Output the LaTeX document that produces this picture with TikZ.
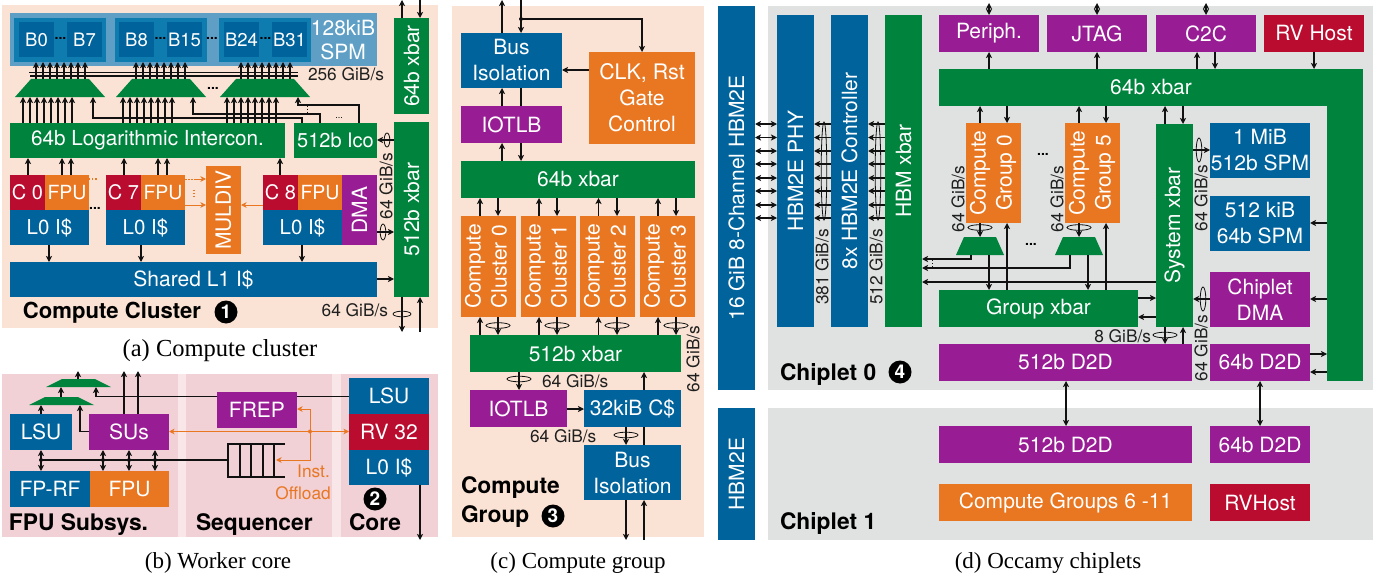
\documentclass[tikz,border=0pt]{standalone}
\usepackage{fontspec}
\usepackage{graphicx}
\setmainfont{TeX Gyre Heros}
\newfontfamily\capfont{Liberation Serif}
\usetikzlibrary{arrows.meta}
\definecolor{cgreen}{HTML}{00843D}
\definecolor{cblue}{HTML}{00639C}
\definecolor{cmid}{HTML}{0F7CB0}
\definecolor{clight}{HTML}{5F9FC6}
\definecolor{cpurple}{HTML}{981C93}
\definecolor{corange}{HTML}{E97722}
\definecolor{cred}{HTML}{BA0C2F}
\definecolor{cpeach}{HTML}{FAE3D4}
\definecolor{cpink}{HTML}{F1D0D6}
\definecolor{cpale}{HTML}{F8E6E9}
\definecolor{cgray}{HTML}{E0E1E1}
\definecolor{cline}{HTML}{111111}
\newcommand\boxfont{\fontsize{21}{26}\selectfont}
\newcommand\fs[1]{\fontsize{#1}{26}\selectfont}
\newcommand\smallfont{\fontsize{17.3}{20}\selectfont}
\newcommand\titlefont{\fontsize{22.8}{28}\selectfont\bfseries}
\newcommand\captfont{\capfont\fontsize{23}{28}\selectfont}
\tikzset{
  box/.style={inner sep=0pt,outer sep=0pt,text=white,align=center,font=\boxfont},
  arr/.style={draw=cline,line width=1.2pt,-{Stealth[length=6pt,width=6pt,inset=1.5pt]}},
  dbl/.style={draw=cline,line width=1.2pt,{Stealth[length=6pt,width=6pt,inset=1.5pt]}-{Stealth[length=6pt,width=6pt,inset=1.5pt]}},
  plain/.style={draw=cline,line width=1.2pt},
  oarr/.style={draw=corange,line width=1pt,-{Stealth[length=5.5pt,width=5.5pt,inset=1.5pt]}},
  odbl/.style={draw=corange,line width=1pt,{Stealth[length=5.5pt,width=5.5pt,inset=1.5pt]}-{Stealth[length=5.5pt,width=5.5pt,inset=1.5pt]}},
  ring/.style={draw=cline,line width=0.8pt},
  lab/.style={inner sep=0pt,outer sep=0pt,font=\smallfont,text=black!88},
  ttl/.style={inner sep=0pt,outer sep=0pt,font=\titlefont,text=black,anchor=base west},
  capt/.style={inner sep=0pt,outer sep=0pt,font=\captfont,text=black,anchor=base},
  numc/.style={circle,fill=black,text=white,minimum size=23pt,inner sep=0pt,outer sep=0pt,font=\fontsize{19}{20}\selectfont\bfseries},
  ddots/.style={inner sep=0pt,outer sep=0pt,font=\fontsize{14}{15}\selectfont\bfseries,text=black},
}
\newcommand\bx[7]{%
  \pgfmathsetmacro\bw{#4-(#2)}\pgfmathsetmacro\bh{#5-(#3)}%
  \pgfmathsetmacro\bcx{(#2+#4)/2}\pgfmathsetmacro\bcy{(#3+#5)/2}%
  \node[box,fill=#6,minimum width=\bw pt,minimum height=\bh pt] (#1) at (\bcx,\bcy) {#7};}
\newcommand\mux[6]{% name xl xr ytop ybot inset
  \pgfmathsetmacro\bw{#3-(#2)}\pgfmathsetmacro\bh{#5-(#4)}%
  \pgfmathsetmacro\bcx{(#2+#3)/2}\pgfmathsetmacro\bcy{(#4+#5)/2}%
  \fill[cgreen] (#2,#5) -- (#2+#6,#4) -- (#3-#6,#4) -- (#3,#5) -- cycle;
  \node[inner sep=0pt,outer sep=0pt,minimum width=\bw pt,minimum height=\bh pt] (#1) at (\bcx,\bcy) {};}
\newcommand\rt[1]{\rotatebox{90}{#1}}
\newcommand\rtt[2]{\rotatebox{90}{\begin{tabular}{@{}c@{}}#1\\#2\end{tabular}}}
\newcommand\vl[4][arr]{\draw[#1] (#2,0 |- #3) -- (#2,0 |- #4);}
\newcommand\hl[4][arr]{\draw[#1] (#3 |- 0,#2) -- (#4 |- 0,#2);}
\newcommand\hring[3]{\draw[ring] (#1,#2) ellipse [x radius=#3,y radius=2.8];}
\newcommand\vring[3]{\draw[ring] (#1,#2) ellipse [x radius=2.8,y radius=#3];}
\begin{document}
\begin{tikzpicture}[x=1pt,y=-1pt]
\useasboundingbox (0,0) rectangle (1387,578);
% named free ends
\coordinate (topa) at (0,0);
\coordinate (bota) at (0,332);
\coordinate (topb) at (0,371);
\coordinate (botb) at (0,540);
\coordinate (topc) at (0,0);
\coordinate (botc) at (0,540);
\coordinate (topd) at (0,3);
%% ---------- panel a
\bx{pa}{2}{5}{438}{328}{cpeach}{}
\bx{spm}{10}{13}{377}{66}{clight}{}
\bx{g1}{14}{18}{106}{62}{cmid}{}
\bx{g2}{115}{18}{207}{62}{cmid}{}
\bx{g3}{219}{18}{311}{62}{cmid}{}
\bx{b0}{19}{22}{54}{57}{cblue}{\fs{18.5}B0}
\bx{b7}{67}{22}{102}{57}{cblue}{\fs{18.5}B7}
\bx{b8}{119}{22}{154}{57}{cblue}{\fs{18.5}B8}
\bx{b15}{167}{22}{202}{57}{cblue}{\fs{18.5}B15}
\bx{b24}{224}{22}{259}{57}{cblue}{\fs{18.5}B24}
\bx{b31}{272}{22}{307}{57}{cblue}{\fs{18.5}B31}
\node[ddots] (dg1) at (60.5,38.5) {...};
\node[ddots] (dg2) at (160.5,38.5) {...};
\node[ddots] (dg3) at (212,38.5) {...};
\node[ddots] (dg4) at (265.5,38.5) {...};
\node[box,text width=70pt] (spmt) at (343,40.5) {128kiB\\[-2pt]SPM};
\mux{m1}{15}{105}{79}{97}{16}
\mux{m2}{116}{206}{79}{97}{16}
\mux{m3}{220}{310}{79}{97}{16}
\node[ddots] (dmm) at (213,88) {...};
\bx{lic}{10}{123}{285}{158}{cgreen}{\fs{20.7}64b Logarithmic Intercon.}
\bx{ico}{294}{123}{377}{158}{cgreen}{\fs{20}512b Ico}
\bx{xb64}{394}{18}{429}{114}{cgreen}{\rt{64b xbar}}
\bx{xb512}{394}{122}{429}{297}{cgreen}{\rt{512b xbar}}
\bx{c0}{10}{175}{45}{210}{cred}{\fs{20}C 0}
\bx{f0}{45}{175}{89}{210}{corange}{\fs{19.5}FPU}
\bx{l0}{10}{210}{89}{245}{cblue}{\fs{20.5}L0 I\$}
\bx{c7}{106}{175}{141}{210}{cred}{\fs{20}C 7}
\bx{f7}{141}{175}{185}{210}{corange}{\fs{19.5}FPU}
\bx{l7}{106}{210}{185}{245}{cblue}{\fs{20.5}L0 I\$}
\bx{c8}{263}{175}{298}{210}{cred}{\fs{20}C 8}
\bx{f8}{298}{175}{342}{210}{corange}{\fs{19.5}FPU}
\bx{l8}{263}{210}{342}{245}{cblue}{\fs{20.5}L0 I\$}
\bx{dma}{342}{175}{377}{245}{cpurple}{\rt{DMA}}
\bx{muldiv}{206}{166}{241}{254}{corange}{\rt{MULDIV}}
\bx{shl}{10}{262}{377}{297}{cblue}{Shared L1 I\$}
\foreach \x in {36,43,50,57,64,71,78,85} {\vl{\x}{m1.north}{g1.south}}
\foreach \x in {136,143,150,157,164,171,178,185} {\vl{\x}{m2.north}{g2.south}}
\foreach \x in {241,248,255,262,269,276,283,290} {\vl{\x}{m3.north}{g3.south}}
\coordinate (busla) at (29,72.5);
\coordinate (busra) at (298,72.5);
\coordinate (buslb) at (30,76);
\coordinate (busrb) at (298,76);
\draw[plain] (busla) -- (busra);
\draw[plain] (buslb) -- (busrb);
\foreach \x in {23,30,37,44,51,58,65,72} {\vl{\x}{lic.north}{m1.south}}
\foreach \x in {123,130,137,144,151,158,165,172} {\vl{\x}{lic.north}{m2.south}}
\foreach \x in {227,234,241,248,255,262,269,276} {\vl{\x}{lic.north}{m3.south}}
\draw[arr] (302,0 |- ico.north) |- (93,118) -- (93,0 |- m1.south);
\draw[arr] (320,0 |- ico.north) |- (193,114) -- (193,0 |- m2.south);
\draw[arr] (359,0 |- ico.north) |- (298,105) -- (298,0 |- m3.south);
\draw[line width=1pt,dotted,draw=cline] (307,105.5) -- (307,113);
\node[inner sep=0pt,font=\fontsize{9}{10}\selectfont,text=black] (dico) at (339,118) {...};
\vl{402}{xb64.north}{topa}
\vl{420}{topa}{xb64.north}
\hl{140}{xb512.west}{ico.east}
\vring{387}{140}{7}
\foreach \x in {28,62,71} {\vl{\x}{c0.north}{lic.south}}
\vl{124}{c7.north}{lic.south}
\vl{158}{c7.north}{lic.south}
\vl{167}{c7.north}{lic.south}
\vl{280}{c8.north}{lic.south}
\draw[corange,line width=1.2pt,dotted] (f0.east |- 0,179) -- ++(8,0);
\draw[oarr,dash pattern=on 1.5pt off 1.5pt on 1.5pt off 1.5pt on 1.5pt off 1.5pt on 30pt] (f7.east |- 0,179) -- (muldiv.west |- 0,179);
\draw[corange,line width=1.2pt,dotted] (194,190) -- (194,197);
\hl[oarr]{205}{f7.east}{muldiv.west}
\hl[oarr]{205}{c8.west}{muldiv.east}
\node[ddots] (dcore) at (95,208) {...};
\vl{49}{l0.south}{shl.north}
\vl{141}{l7.south}{shl.north}
\vl{302}{l8.south}{shl.north}
\hl{279}{shl.east}{xb512.west}
\hl{232}{dma.east}{xb512.west}
\vring{383}{232}{8}
\vl{402}{xb512.south}{bota}
\vl{420}{bota}{xb512.south}
\hring{402}{314}{9}
\node[lab,anchor=east] (la1) at (388,310) {64 GiB/s};
\node[lab,rotate=90] (la2) at (386,186) {64 GiB/s};
\node[ttl,font=\fontsize{22.1}{28}\selectfont\bfseries] (ta) at (23,318) {Compute Cluster};
\node[numc] (na) at (226,312) {1};
\node[capt,font=\capfont\fontsize{24.5}{28}\selectfont] (ca) at (220,356) {(a) Compute cluster};
\node[lab,anchor=west] (la3) at (308,74.5) {256 GiB/s};
%% ---------- panel b
\bx{sba}{178}{374}{186}{537}{cpale}{}
\bx{sbb}{332}{374}{341}{537}{cpale}{}
\bx{pb1}{2}{374}{178}{537}{cpink}{}
\bx{pb2}{186}{374}{332}{537}{cpink}{}
\bx{pb3}{341}{374}{438}{537}{cpink}{}
\mux{mb1}{46}{111}{379}{387}{16}
\mux{mb2}{29}{94}{397}{405}{16}
\bx{lsub}{10}{414}{72}{450}{cblue}{LSU}
\bx{sus}{89}{414}{169}{450}{cpurple}{SUs}
\bx{fprf}{10}{471}{90}{507}{cblue}{FP-RF}
\bx{fpub}{90}{471}{169}{507}{corange}{FPU}
\bx{frep}{217}{392}{297}{428}{cpurple}{FREP}
\bx{lsuc}{349}{378}{429}{414}{cblue}{LSU}
\bx{rv}{349}{414}{429}{450}{cred}{RV 32}
\bx{loc}{349}{450}{429}{485}{cblue}{L0 I\$}
\bx{queue}{228}{444}{285}{477}{none}{}
\vl{78}{mb1.north}{topb}
\vl{61}{mb2.north}{mb1.south}
\vl{41}{lsub.north}{mb2.south}
\draw[arr] (sus.west |- 0,431.5) -| (80,0 |- mb2.south);
\draw[plain] (lsuc.west |- 0,396.5) -- (frep.east |- 0,396.5);
\draw[arr] (frep.west |- 0,396.5) -| (96,0 |- mb1.south);
\vl{124}{sus.north}{topb}
\vl{138}{sus.north}{topb}
\vl[dbl]{41}{lsub.south}{fprf.north}
\vl[dbl]{103}{sus.south}{fpub.north}
\vl[dbl]{129}{sus.south}{fpub.north}
\vl[dbl]{155}{sus.south}{fpub.north}
\draw[plain] (41,460) -- (queue.west |- 0,460);
\foreach \x in {41,103,129,155} {\fill[cline] (\x,460) circle (2);}
\draw[plain,line width=1.4pt] (queue.north east) -- (queue.north west) -- (queue.south west) -- (queue.south east);
\foreach \x in {240,251,263,274} {\draw[plain,line width=1.4pt] (\x,0 |- queue.north) -- (\x,0 |- queue.south);}
\coordinate (od) at (310,431.5);
\hl[odbl]{431.5}{sus.east}{rv.west}
\fill[corange] (od) circle (2);
\draw[oarr] (od) |- (frep.east |- 0,409);
\draw[oarr] (od) |- (276,460);
\node[inner sep=0pt,anchor=east,font=\smallfont,text=corange] (oi) at (330,471) {Inst.};
\node[inner sep=0pt,anchor=east,font=\smallfont,text=corange] (oo) at (331,493) {Offload};
\node[numc] (nb) at (375,499) {2};
\draw[arr] (420,0 |- loc.south) -- (420,0 |- botb);
\node[ttl] (tb1) at (9,530) {FPU Subsys.};
\node[ttl] (tb2) at (196,530) {Sequencer};
\node[ttl] (tb3) at (349,530) {Core};
\node[capt] (cb) at (218,568) {(b) Worker core};
%% ---------- panel c
\bx{pc}{452}{6}{704}{537}{cpeach}{}
\bx{bi1}{461}{33}{562}{88}{cblue}{Bus\\Isolation}
\bx{clk}{589}{52}{695}{144}{corange}{\fs{21.4}CLK, Rst\\Gate\\Control}
\bx{io1}{461}{106}{562}{143}{cpurple}{IOTLB}
\bx{xc64}{461}{161}{695}{198}{cgreen}{64b xbar}
\bx{cc0}{461}{216}{516}{317}{corange}{\rtt{Compute}{Cluster 0}}
\bx{cc1}{521}{216}{576}{317}{corange}{\rtt{Compute}{Cluster 1}}
\bx{cc2}{580}{216}{635}{317}{corange}{\rtt{Compute}{Cluster 2}}
\bx{cc3}{640}{216}{695}{317}{corange}{\rtt{Compute}{Cluster 3}}
\bx{xc512}{470}{335}{681}{372}{cgreen}{512b xbar}
\bx{io2}{470}{390}{567}{427}{cpurple}{IOTLB}
\bx{cache}{584}{390}{681}{427}{cblue}{32kiB C\$}
\bx{bi2}{584}{445}{681}{500}{cblue}{Bus\\Isolation}
\vl{502}{bi1.north}{topc}
\vl{521}{topc}{bi1.north}
\coordinate (cj) at (521,19);
\fill[cline] (cj) circle (2);
\draw[arr] (cj) -| (642,0 |- clk.north);
\hl{70}{clk.west}{bi1.east}
\vl{502}{io1.north}{bi1.south}
\draw[plain] (521,0 |- bi1.south) -- (521,0 |- io1.north);
\vl{502}{xc64.north}{io1.south}
\vl{521}{io1.south}{xc64.north}
\foreach \n/\u/\d in {cc0/480/498,cc1/539/557,cc2/598.5/617,cc3/658/676} {
  \vl{\u}{\n.north}{xc64.south}
  \vl{\d}{xc64.south}{\n.north}
  \vl{\u}{xc512.north}{\n.south}
  \vl{\d}{\n.south}{xc512.north}
  \hring{\d}{325.5}{12}
}
\vl{519}{xc512.south}{io2.north}
\hring{519}{379}{12}
\hl{409}{io2.east}{cache.west}
\vl{644}{cache.north}{xc512.south}
\draw[plain] (644,0 |- bi2.north) -- (644,0 |- cache.south);
\vl{626}{cache.south}{bi2.north}
\hring{626}{435}{12}
\vl{626}{bi2.south}{botc}
\vl{644}{botc}{bi2.south}
\node[lab,anchor=west] (lc1) at (542,381) {64 GiB/s};
\node[lab,anchor=west] (lc2) at (530,436.5) {64 GiB/s};
\node[lab,rotate=90] (lc3) at (693,359) {64 GiB/s};
\node[ttl] (tc1) at (461,493) {Compute};
\node[ttl] (tc2) at (461,522) {Group};
\node[numc] (nc) at (553,516) {3};
\node[capt] (cc) at (578,568) {(c) Compute group};
%% ---------- panel d
\bx{hbm}{718}{6}{755}{390}{cblue}{\rt{16 GiB 8-Channel HBM2E}}
\bx{hbmb}{718}{408}{755}{540}{cblue}{\rt{HBM2E}}
\bx{pd0}{768}{6}{1373}{390}{cgray}{}
\bx{pd1}{768}{408}{1373}{540}{cgray}{}
\bx{phy}{777}{15}{814}{327}{cblue}{\rt{HBM2E PHY}}
\bx{ctl}{831}{15}{868}{327}{cblue}{\rt{8x HBM2E Controller}}
\bx{hx}{885}{15}{922}{327}{cgreen}{\rt{HBM xbar}}
\foreach \y in {124,137.5,151,164,178,191,205,218} {
  \hl[dbl]{\y}{hbm.east}{phy.west}
  \hl{\y}{ctl.west}{phy.east}
  \hl{\y}{hx.west}{ctl.east}
}
\vring{824}{171}{49}
\vring{878}{171}{49}
\node[lab,rotate=90] (ld1) at (822,267) {381 GiB/s};
\node[lab,rotate=90] (ld2) at (876,267) {512 GiB/s};
\bx{per}{939}{15}{1039}{52}{cpurple}{Periph.}
\bx{jtag}{1047}{15}{1147}{52}{cpurple}{JTAG}
\bx{c2c}{1156}{15}{1256}{52}{cpurple}{C2C}
\bx{rvh}{1264}{15}{1364}{52}{cred}{RV Host}
\bx{bigv}{1327}{69}{1363}{381}{cgreen}{}
\bx{bigh}{939}{69}{1363}{106}{cgreen}{64b xbar}
\bx{cg0}{966}{123}{1021}{223}{corange}{\rtt{Compute}{Group 0}}
\bx{cg5}{1065}{123}{1120}{223}{corange}{\rtt{Compute}{Group 5}}
\node[ddots] (dd1) at (1043,154) {...};
\node[ddots] (dd2) at (1031,244) {...};
\mux{md1}{956}{1004}{237}{255}{8}
\mux{md2}{1055}{1103}{237}{255}{8}
\bx{gx}{939}{290}{1138}{327}{cgreen}{Group xbar}
\bx{sx}{1156}{124}{1193}{327}{cgreen}{\rt{System xbar}}
\bx{d2a}{939}{344}{1192}{381}{cpurple}{512b D2D}
\bx{d2b}{1210}{344}{1310}{381}{cpurple}{64b D2D}
\bx{spa}{1210}{123}{1310}{178}{cblue}{1 MiB\\512b SPM}
\bx{spb}{1210}{196}{1310}{251}{cblue}{512 kiB\\64b SPM}
\bx{cdma}{1210}{272}{1310}{327}{cpurple}{Chiplet\\DMA}
\bx{d2c}{939}{426}{1192}{463}{cpurple}{512b D2D}
\bx{d2e}{1210}{426}{1310}{463}{cpurple}{64b D2D}
\bx{cgs}{939}{484}{1192}{521}{corange}{Compute Groups 6 -11}
\bx{rvb}{1210}{484}{1310}{521}{cred}{RVHost}
\vl[dbl]{989}{topd}{per.north}
\vl[dbl]{1097}{topd}{jtag.north}
\vl[dbl]{1206}{topd}{c2c.north}
\vl{989}{bigh.north}{per.south}
\vl{1097}{bigh.north}{jtag.south}
\vl{1197}{bigh.north}{c2c.south}
\vl{1215}{c2c.south}{bigh.north}
\vl{1314}{rvh.south}{bigh.north}
\vl{980}{cg0.north}{bigh.south}
\vl{1007}{bigh.south}{cg0.north}
\vl{1079}{cg5.north}{bigh.south}
\vl{1106}{bigh.south}{cg5.north}
\vl{1165}{sx.north}{bigh.south}
\vl{1183}{bigh.south}{sx.north}
\vl{980}{cg0.south}{md1.north}
\vl{1079}{cg5.south}{md2.north}
\hring{980}{227.5}{12}
\hring{1079}{227.5}{12}
\vl{989}{md1.south}{gx.north}
\vl{1088}{md2.south}{gx.north}
\vl{1007}{gx.north}{cg0.south}
\vl{1106}{gx.north}{cg5.south}
\draw[arr] (971,0 |- md1.south) |- (hx.east |- 0,259);
\draw[arr] (1070,0 |- md2.south) |- (hx.east |- 0,268);
\hl{282}{sx.west}{hx.east}
\draw[line width=1pt,dotted,draw=cline] (932,260) -- (932,267);
\hl{298}{gx.east}{sx.west}
\hl{317}{sx.west}{gx.east}
\vl{1165}{sx.south}{d2a.north}
\vl{1183}{d2a.north}{sx.south}
\hring{1165}{335}{12}
\node[lab,anchor=east] (ld3) at (1151,336) {8 GiB/s};
\vl[dbl]{1066}{d2a.south}{d2c.north}
\vl[dbl]{1260}{d2b.south}{d2e.north}
\hl{150}{sx.east}{spa.west}
\vring{1199}{150}{12}
\hl{223}{bigv.west}{spb.east}
\hl{299}{bigv.west}{cdma.east}
\hl{299}{cdma.west}{sx.east}
\vring{1203}{299}{12}
\hl{354}{d2b.east}{bigv.west}
\hl{372}{bigv.west}{d2b.east}
\node[lab,rotate=90] (ld4) at (958,199) {64 GiB/s};
\node[lab,rotate=90] (ld5) at (1057,199) {64 GiB/s};
\node[lab,rotate=90] (ld6) at (1201,198) {64 GiB/s};
\node[lab,rotate=90] (ld7) at (1201,348) {64 GiB/s};
\node[ttl] (td1) at (780,380) {Chiplet 0};
\node[numc] (nd) at (900,372) {4};
\node[ttl] (td2) at (780,529) {Chiplet 1};
\node[capt] (cd) at (1048,568) {(d) Occamy chiplets};
\end{tikzpicture}
\end{document}
